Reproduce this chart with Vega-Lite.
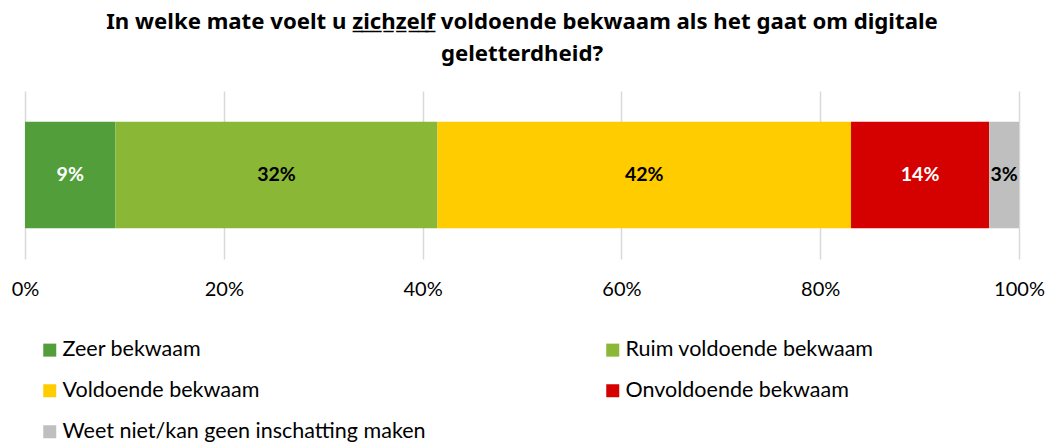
{
  "$schema": "https://vega.github.io/schema/vega-lite/v6.json",
  "width": 994,
  "height": 168,
  "autosize": {"type": "none"},
  "padding": {"left": 25, "top": 91, "right": 32, "bottom": 184},
  "title": {
    "text": ["In welke mate voelt u z̲i̲c̲h̲z̲e̲l̲f̲ voldoende bekwaam als het gaat om digitale", "geletterdheid?"],
    "font": "Noto Sans",
    "fontSize": 22.2,
    "fontWeight": "bold",
    "lineHeight": 32,
    "offset": 26,
    "anchor": "middle",
    "color": "#000000"
  },
  "config": {"view": {"stroke": null}, "font": "Lato"},
  "data": {
    "values": [
      {"q": "Totaal", "cat": "Zeer bekwaam", "value": 9.1, "label": "9%", "order": 1},
      {"q": "Totaal", "cat": "Ruim voldoende bekwaam", "value": 32.4, "label": "32%", "order": 2},
      {"q": "Totaal", "cat": "Voldoende bekwaam", "value": 41.6, "label": "42%", "order": 3},
      {"q": "Totaal", "cat": "Onvoldoende bekwaam", "value": 13.9, "label": "14%", "order": 4},
      {"q": "Totaal", "cat": "Weet niet/kan geen inschatting maken", "value": 3.0, "label": "3%", "order": 5}
    ]
  },
  "transform": [
    {"stack": "value", "groupby": ["q"], "sort": [{"field": "order"}], "as": ["x0", "x1"]},
    {"calculate": "(datum.x0 + datum.x1) / 2", "as": "mid"}
  ],
  "encoding": {
    "y": {"field": "q", "type": "nominal", "axis": null, "scale": {"paddingInner": 0, "paddingOuter": 0.29}}
  },
  "layer": [
    {
      "mark": {"type": "bar"},
      "encoding": {
        "x": {
          "field": "x0", "type": "quantitative",
          "scale": {"domain": [0, 100], "nice": false},
          "axis": {
            "title": null, "values": [0, 20, 40, 60, 80, 100],
            "labelExpr": "datum.value + '%'",
            "grid": true, "gridColor": "#D9D9D9", "gridWidth": 1.5,
            "domain": false, "ticks": false,
            "labelFont": "Lato", "labelFontSize": 20, "labelColor": "#000000",
            "labelPadding": 20, "labelFlush": false, "labelOverlap": false
          }
        },
        "x2": {"field": "x1"},
        "color": {
          "field": "cat", "type": "nominal",
          "scale": {
            "domain": ["Zeer bekwaam", "Ruim voldoende bekwaam", "Voldoende bekwaam", "Onvoldoende bekwaam", "Weet niet/kan geen inschatting maken"],
            "range": ["#529E3B", "#8AB735", "#FFCC00", "#D50000", "#BFBFBF"]
          },
          "legend": {
            "title": null, "orient": "none", "legendX": 14, "legendY": 248,
            "direction": "horizontal",
            "columns": 2, "columnPadding": 176, "rowPadding": 18,
            "symbolType": "square", "symbolSize": 169, "symbolStrokeWidth": 0,
            "labelFont": "Lato", "labelFontSize": 21.5, "labelColor": "#000000",
            "labelLimit": 600, "labelOffset": 2, "padding": 0
          }
        }
      }
    },
    {
      "mark": {"type": "text", "font": "Lato", "fontSize": 19.5, "fontWeight": "bold"},
      "encoding": {
        "x": {"field": "mid", "type": "quantitative"},
        "text": {"field": "label"},
        "color": {
          "condition": {"test": "datum.cat === 'Zeer bekwaam' || datum.cat === 'Onvoldoende bekwaam'", "value": "#FFFFFF"},
          "value": "#000000"
        }
      }
    }
  ]
}
